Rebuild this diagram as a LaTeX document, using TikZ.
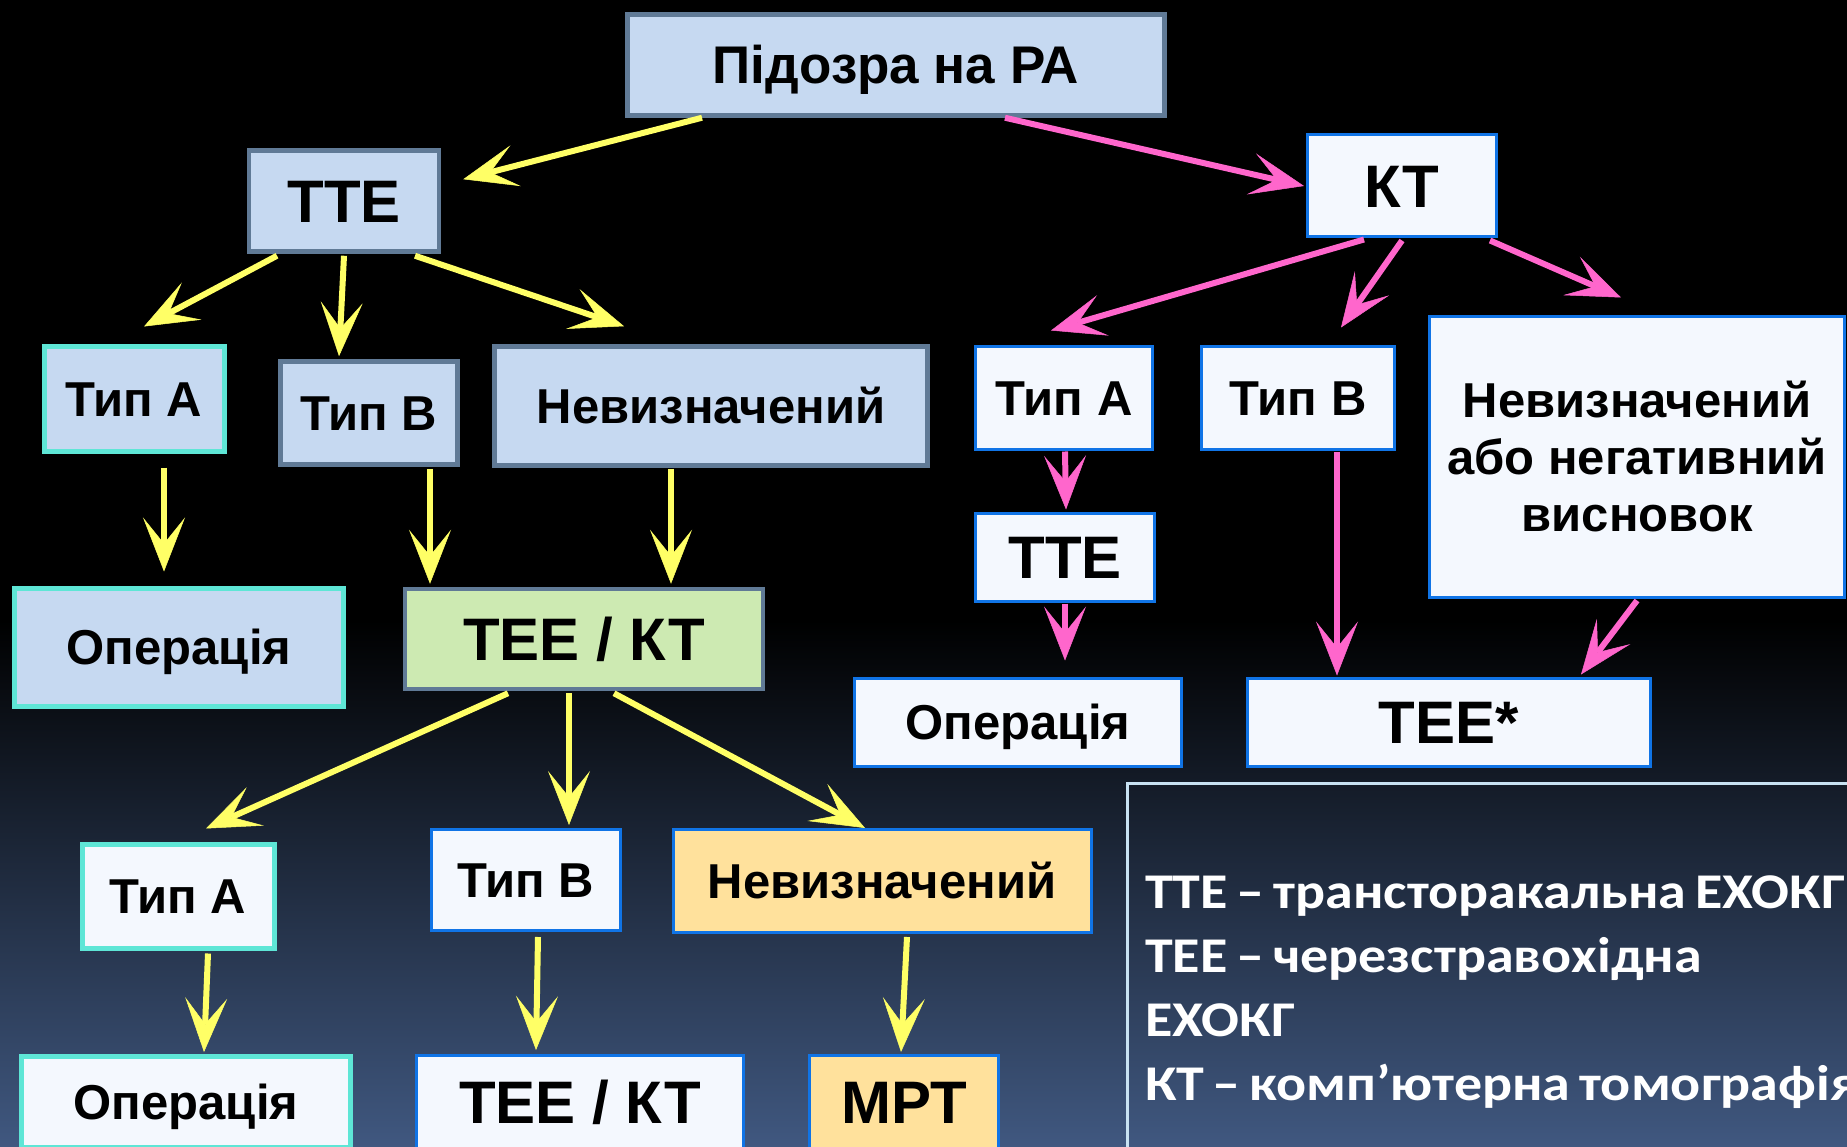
\documentclass[tikz,border=0pt]{standalone}
\usepackage{fontspec}
\setmainfont{Liberation Sans}
\newfontfamily\legendfont{Carlito}[FakeStretch=1.12, WordSpace=0.7]
\usetikzlibrary{arrows.meta}
\definecolor{boxblue}{RGB}{198,217,241}
\definecolor{boxedge}{RGB}{96,122,150}
\definecolor{turq}{RGB}{94,230,214}
\definecolor{paleface}{RGB}{244,248,254}
\definecolor{bluedge}{RGB}{16,116,230}
\definecolor{boxgreen}{RGB}{205,234,178}
\definecolor{boxorange}{RGB}{255,225,156}
\definecolor{arryellow}{RGB}{255,255,102}
\definecolor{arrpink}{RGB}{255,102,204}
\definecolor{bgblue}{RGB}{64,88,128}
\definecolor{legedge}{RGB}{200,226,242}
\begin{document}
\begin{tikzpicture}[x=1pt, y=-1pt, every node/.style={inner sep=0pt},
        nfont/.style={font=\fontsize{49}{59}\selectfont\bfseries, text height=35pt, text depth=0pt},
        bfont/.style={font=\fontsize{60}{72}\selectfont\bfseries, text height=43pt, text depth=0pt},
        sz/.style 2 args={minimum width=#1, minimum height=#2},
        greybox/.style={draw=boxedge, fill=boxblue, line width=4.5pt},
        cyanbox/.style={draw=turq, fill=boxblue, line width=5pt},
        cyanwhite/.style={draw=turq, fill=paleface, line width=5pt},
        whitebox/.style={draw=bluedge, fill=paleface, line width=3pt},
        greenbox/.style={draw=boxedge, fill=boxgreen, line width=4.5pt},
        orangebox/.style={draw=bluedge, fill=boxorange, line width=3pt},
        yarr/.style={color=arryellow, line width=6pt, -{Stealth[length=54pt, width=42pt, inset=26pt, line width=0.5pt]}},
        parr/.style={color=arrpink, line width=6pt, -{Stealth[length=54pt, width=42pt, inset=26pt, line width=0.5pt]}}]
        \clip (0,0) rectangle (1847,1147);
        \fill[black] (0,0) rectangle (1847,1147);
        \shade[top color=black, bottom color=bgblue] (0,620) rectangle (1847,1147);
        % top
        \node (pid) [greybox, sz={537pt}{101pt}, font=\fontsize{53}{64}\selectfont\bfseries, text height=38pt, text depth=0pt] at (896,65) {Підозра на РА};
        \node (tteL) [greybox, bfont, sz={190pt}{101pt}] at (344,201) {ТТЕ};
        \node (kt) [whitebox, bfont, sz={189pt}{102pt}] at (1402,186) {КТ};
        % left branch
        \node (ta1) [cyanbox, nfont, sz={180pt}{104pt}] at (134,399) {Тип А};
        \node (tb1) [greybox, nfont, sz={177pt}{103pt}] at (369,413) {Тип В};
        \node (nv1) [greybox, nfont, sz={433pt}{119pt}] at (711,406) {Невизначений};
        \node (op1) [cyanbox, nfont, sz={329pt}{118pt}] at (179,647) {Операція};
        \node (tk1) [greenbox, bfont, sz={358pt}{100pt}] at (584,639) {ТЕЕ / КТ};
        \node (ta3) [cyanwhite, nfont, sz={192pt}{104pt}] at (178,896) {Тип А};
        \node (tb3) [whitebox, nfont, sz={189pt}{101pt}] at (526,880) {Тип В};
        \node (nv3) [orangebox, nfont, sz={418pt}{103pt}] at (882,881) {Невизначений};
        \node (op3) [cyanwhite, nfont, sz={329pt}{91pt}] at (186,1102) {Операція};
        \node (tk2) [whitebox, bfont, sz={327pt}{93pt}] at (580,1102) {ТЕЕ / КТ};
        \node (mrt) [orangebox, bfont, sz={189pt}{93pt}] at (904,1102) {МРТ};
        % right branch
        \node (ta2) [whitebox, nfont, sz={177pt}{102pt}] at (1064,398) {Тип А};
        \node (tb2) [whitebox, nfont, sz={193pt}{102pt}] at (1298,398) {Тип В};
        \node (nv2) [whitebox, sz={415pt}{280pt}, font=\fontsize{49}{57}\selectfont\bfseries, align=center] at (1637,457) {Невизначений\\або негативний\\висновок};
        \node (tteR) [whitebox, bfont, sz={179pt}{88pt}] at (1065,557) {ТТЕ};
        \node (op2) [whitebox, nfont, sz={327pt}{88pt}] at (1018,722) {Операція};
        \node (tees) [whitebox, bfont, sz={403pt}{88pt}] at (1449,722) {ТЕЕ*};
        % yellow
        \draw[yarr] ([xshift=-194pt]pid.south) -- ([xshift=22pt,yshift=-31pt]tteL.north east);
        \draw[yarr] ([xshift=-67pt,yshift=-2pt]tteL.south) -- ([xshift=10pt,yshift=18pt]ta1.north);
        \draw[yarr] ([yshift=-2pt]tteL.south) -- ([xshift=-30pt,yshift=3pt]tb1.north);
        \draw[yarr] ([xshift=71pt,yshift=-2pt]tteL.south) -- ([xshift=-87pt,yshift=18pt]nv1.north);
        \draw[yarr] ([xshift=30pt,yshift=-14pt]ta1.south) -- ([xshift=-15pt,yshift=14pt]op1.north);
        \draw[yarr] ([xshift=61pt,yshift=-2pt]tb1.south) -- ([xshift=-154pt,yshift=3pt]tk1.north);
        \draw[yarr] ([xshift=-40pt,yshift=-1pt]nv1.south) -- ([xshift=87pt,yshift=3pt]tk1.north);
        \draw[yarr] ([xshift=-76pt,yshift=-2pt]tk1.south) -- ([xshift=28pt,yshift=13pt]ta3.north);
        \draw[yarr] ([xshift=-15pt,yshift=-2pt]tk1.south) -- ([xshift=43pt,yshift=3pt]tb3.north);
        \draw[yarr] ([xshift=30pt,yshift=-2pt]tk1.south) -- ([xshift=-17pt]nv3.north);
        \draw[yarr] ([xshift=30pt,yshift=-3pt]ta3.south) -- ([xshift=18pt,yshift=2pt]op3.north);
        \draw[yarr] ([xshift=12pt,yshift=-5pt]tb3.south) -- ([xshift=-44pt,yshift=4pt]tk2.north);
        \draw[yarr] ([xshift=25pt,yshift=-3pt]nv3.south) -- ([xshift=-3pt,yshift=2pt]mrt.north);
        % pink
        \draw[parr] ([xshift=109pt]pid.south) -- ([xshift=-2pt]kt.west);
        \draw[parr] ([xshift=-38pt,yshift=-1pt]kt.south) -- ([xshift=-13pt,yshift=15pt]ta2.north);
        \draw[parr] ([yshift=-2pt]kt.south) -- ([xshift=43pt,yshift=18pt]tb2.north);
        \draw[parr] ([xshift=88pt,yshift=-2pt]kt.south) -- ([xshift=-16pt,yshift=18pt]nv2.north);
        \draw[parr] ([xshift=1pt,yshift=-1pt]ta2.south) -- ([xshift=1pt,yshift=2pt]tteR.north);
        \draw[parr] ([yshift=-1pt]tteR.south) -- ([xshift=47pt,yshift=16pt]op2.north);
        \draw[parr] ([xshift=39pt,yshift=-1pt]tb2.south) -- ([xshift=-112pt,yshift=1pt]tees.north);
        \draw[parr] ([yshift=-2pt]nv2.south) -- ([xshift=132pt,yshift=2pt]tees.north);
        % legend
        \draw[legedge, line width=3pt] (1127.5,783.5) rectangle (1870,1170);
        \node (legend) [anchor=north west, text=white, align=left, font=\legendfont\bfseries\fontsize{50}{64}\selectfont] at (1145,876)
            {ТТЕ – трансторакальна ЕХОКГ\\ТЕЕ – черезстравохідна\\ЕХОКГ\\КТ – комп’ютерна томографія};
\end{tikzpicture}
\end{document}
